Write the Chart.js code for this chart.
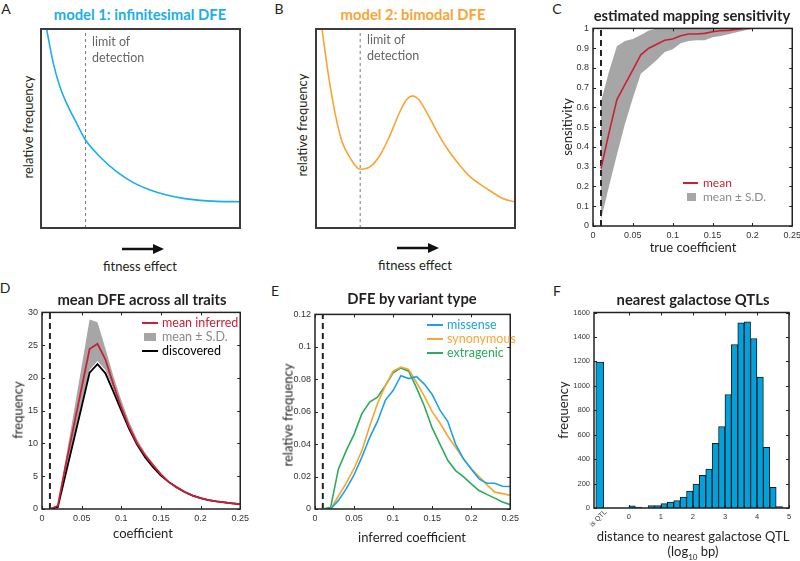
<!DOCTYPE html>
<html>
<head>
<meta charset="utf-8">
<script src="https://cdn.jsdelivr.net/npm/chart.js@4.4.1/dist/chart.umd.min.js"></script>
<style>
body{margin:0;background:#fff;}
#fig{position:relative;width:800px;height:561px;overflow:hidden;font-family:Lato,"Open Sans",sans-serif;color:#231f20;}
#fig canvas{position:absolute;}
.c{position:absolute;white-space:nowrap;line-height:1;transform:translate(-50%,-50%);}
.l{position:absolute;white-space:nowrap;line-height:1;transform:translateY(-50%);}
.title{font-weight:bold;font-size:14.8px;}
.lab{font-size:13px;}
.rot{transform:translate(-50%,-50%) rotate(-90deg);}
.letter{font-size:14px;}
.lim{font-size:12.5px;color:#666;line-height:16px;}
.leg{font-size:12.5px;}
.sw{position:absolute;}
</style>
</head>
<body>
<div id="fig">
  <canvas id="cA" width="207" height="207" style="left:37px;top:25px"></canvas>
  <canvas id="cB" width="207" height="207" style="left:312px;top:25px"></canvas>
  <canvas id="cC" width="247" height="227" style="left:558px;top:19px"></canvas>
  <canvas id="cD" width="246" height="226" style="left:7px;top:303px"></canvas>
  <canvas id="cE" width="243" height="224" style="left:280px;top:305px"></canvas>
  <canvas id="cF" width="242" height="224" style="left:559px;top:304px"></canvas>

  <div class="c letter" style="left:6px;top:9px">A</div>
  <div class="c letter" style="left:279px;top:9px">B</div>
  <div class="c letter" style="left:557px;top:9px">C</div>
  <div class="c letter" style="left:5px;top:288px">D</div>
  <div class="c letter" style="left:275px;top:291px">E</div>
  <div class="c letter" style="left:557px;top:291px">F</div>

  <div class="c title" style="left:140px;top:14px;color:#1aaeea">model 1: infinitesimal DFE</div>
  <div class="c title" style="left:413px;top:14px;color:#f9a533">model 2: bimodal DFE</div>
  <div class="c title" style="left:692px;top:15px">estimated mapping sensitivity</div>
  <div class="c title" style="left:142px;top:299px">mean DFE across all traits</div>
  <div class="c title" style="left:412px;top:298px">DFE by variant type</div>
  <div class="c title" style="left:693px;top:299px">nearest galactose QTLs</div>

  <div class="c lab rot" style="left:28px;top:127px">relative frequency</div>
  <div class="c lab rot" style="left:302px;top:125px">relative frequency</div>
  <div class="c lab rot" style="left:567px;top:127px">sensitivity</div>
  <div class="c lab rot" style="left:18px;top:410px">frequency</div>
  <div class="c lab rot" style="left:288px;top:415px">relative frequency</div>
  <div class="c lab rot" style="left:563px;top:410px">frequency</div>

  <div class="c lab" style="left:140px;top:266px">fitness effect</div>
  <div class="c lab" style="left:415px;top:265px">fitness effect</div>
  <div class="c lab" style="left:693px;top:247px">true coefficient</div>
  <div class="c lab" style="left:143px;top:533px">coefficient</div>
  <div class="c lab" style="left:412px;top:537px">inferred coefficient</div>
  <div class="c lab" style="left:693px;top:536px">distance to nearest galactose QTL</div>
  <div class="c lab" style="left:693px;top:553px">(log<sub style="font-size:8px">10</sub> bp)</div>
  <div class="c" style="left:598px;top:518px;font-size:7px;color:#333;font-family:'Liberation Sans';transform:translate(-50%,-50%) rotate(-45deg)">is QTL</div>

  <div class="l lim" style="left:92px;top:50px">limit of<br>detection</div>
  <div class="l lim" style="left:367px;top:48px">limit of<br>detection</div>

  <svg style="position:absolute;left:118px;top:241px" width="50" height="16"><line x1="4" y1="8" x2="36" y2="8" stroke="#111" stroke-width="2.5"/><polygon points="35,3 46,8 35,13" fill="#111"/></svg>
  <svg style="position:absolute;left:393px;top:240px" width="50" height="16"><line x1="4" y1="8" x2="36" y2="8" stroke="#111" stroke-width="2.5"/><polygon points="35,3 46,8 35,13" fill="#111"/></svg>

  <!-- legend C -->
  <div class="sw" style="left:683px;top:182px;width:15px;height:2px;background:#cc1f36"></div>
  <div class="l leg" style="left:703px;top:183px;color:#cc1f36;font-size:12px">mean</div>
  <div class="sw" style="left:687px;top:193px;width:9px;height:8px;background:#a6a6a6"></div>
  <div class="l leg" style="left:703px;top:197px;color:#8a8a8a;font-size:12px">mean ± S.D.</div>
  <!-- legend D -->
  <div class="sw" style="left:142px;top:322px;width:16px;height:2px;background:#cc1f36"></div>
  <div class="l leg" style="left:162px;top:323px;color:#cc1f36">mean inferred</div>
  <div class="sw" style="left:144px;top:333px;width:12px;height:8px;background:#a6a6a6"></div>
  <div class="l leg" style="left:162px;top:337px;color:#8a8a8a">mean ± S.D.</div>
  <div class="sw" style="left:142px;top:350px;width:16px;height:2px;background:#000"></div>
  <div class="l leg" style="left:162px;top:351px;color:#000">discovered</div>
  <!-- legend E -->
  <div class="sw" style="left:427px;top:324px;width:16px;height:2px;background:#1ca3e6"></div>
  <div class="l leg" style="left:447px;top:325px;color:#1ca3e6">missense</div>
  <div class="sw" style="left:427px;top:338px;width:16px;height:2px;background:#f9a533"></div>
  <div class="l leg" style="left:447px;top:339px;color:#f9a533">synonymous</div>
  <div class="sw" style="left:427px;top:352px;width:16px;height:2px;background:#2bac5c"></div>
  <div class="l leg" style="left:447px;top:353px;color:#2bac5c">extragenic</div>
</div>

<script>
// A: infinitesimal model curve (box fractions)
let aX = [0.028, 0.062, 0.095, 0.129, 0.179, 0.224, 0.296, 0.380, 0.464, 0.548, 0.631, 0.715, 0.799, 0.883, 1.0];
let aY = [1.0, 0.827, 0.71, 0.626, 0.526, 0.442, 0.358, 0.283, 0.228, 0.191, 0.166, 0.149, 0.139, 0.134, 0.132];
let aLimit = 0.224;

// B: bimodal model curve
let bX = [0.030, 0.064, 0.097, 0.130, 0.172, 0.222, 0.273, 0.323, 0.373, 0.423, 0.457, 0.485, 0.515, 0.557, 0.607, 0.657, 0.707, 0.774, 0.858, 0.941, 1.0];
let bY = [1.0, 0.758, 0.571, 0.436, 0.351, 0.295, 0.308, 0.368, 0.469, 0.588, 0.647, 0.664, 0.647, 0.580, 0.486, 0.402, 0.334, 0.258, 0.198, 0.147, 0.131];
let bLimit = 0.222;

// C: mapping sensitivity
let cX = [0.01, 0.02, 0.03, 0.04, 0.05, 0.06, 0.07, 0.08, 0.09, 0.10, 0.11, 0.12, 0.13, 0.14, 0.15, 0.16, 0.17, 0.18, 0.19, 0.20];
let cMean = [0.29, 0.47, 0.64, 0.715, 0.79, 0.866, 0.9, 0.92, 0.94, 0.946, 0.963, 0.972, 0.972, 0.975, 0.983, 0.988, 0.99, 0.995, 1.0, 1.0];
let cUpper = [0.63, 0.78, 0.91, 0.936, 0.946, 0.966, 0.99, 1, 1, 1, 1, 1, 1, 1, 1, 1, 1, 1, 1, 1];
let cLower = [0.03, 0.2, 0.36, 0.515, 0.648, 0.77, 0.805, 0.84, 0.88, 0.895, 0.925, 0.936, 0.94, 0.94, 0.955, 0.962, 0.97, 0.98, 0.99, 1.0];
let limitX = 0.01;

// D: mean DFE across traits
let dX = [0.01, 0.02, 0.03, 0.04, 0.05, 0.06, 0.07, 0.08, 0.09, 0.10, 0.11, 0.12, 0.13, 0.14, 0.15, 0.16, 0.17, 0.18, 0.19, 0.20, 0.21, 0.22, 0.23, 0.24, 0.25];
let dMean = [0, 0.5, 6.8, 12.6, 18.5, 24.4, 25.2, 22.8, 19.0, 15.5, 12.5, 10.0, 8.2, 6.7, 5.3, 4.1, 3.3, 2.6, 2.05, 1.65, 1.35, 1.15, 1.0, 0.87, 0.75];
let dUpper = [0, 0.6, 7.7, 14.7, 21.8, 28.9, 28.5, 24.5, 20.3, 16.6, 13.3, 10.6, 8.6, 7.0, 5.5, 4.25, 3.4, 2.7, 2.1, 1.7, 1.38, 1.17, 1.02, 0.88, 0.76];
let dLower = [0, 0.35, 5.6, 10.8, 16.0, 21.2, 22.6, 21.2, 18.3, 15.2, 12.3, 9.9, 8.0, 6.5, 5.2, 4.1, 3.3, 2.6, 2.05, 1.65, 1.35, 1.15, 1.0, 0.87, 0.75];
let dFound = [0, 0.3, 5.4, 10.5, 15.6, 20.8, 22.1, 20.7, 17.9, 15.0, 12.2, 9.8, 7.9, 6.4, 5.1, 4.1, 3.3, 2.6, 2.05, 1.65, 1.35, 1.15, 1.0, 0.87, 0.75];

// E: DFE by variant type
let eX = dX;
let eMissense = [0, 0, 0.0053, 0.0124, 0.021, 0.032, 0.044, 0.054, 0.067, 0.073, 0.0822, 0.0804, 0.0816, 0.077, 0.0706, 0.061, 0.0539, 0.04, 0.031, 0.0247, 0.0186, 0.0159, 0.0159, 0.014, 0.0139];
let eSynonymous = [0, 0, 0.008, 0.016, 0.025, 0.036, 0.051, 0.065, 0.076, 0.085, 0.0875, 0.086, 0.078, 0.0696, 0.06, 0.053, 0.045, 0.038, 0.031, 0.025, 0.02, 0.015, 0.0104, 0.0095, 0.0084];
let eExtragenic = [0, 0.001, 0.0247, 0.036, 0.046, 0.0588, 0.066, 0.069, 0.076, 0.084, 0.087, 0.085, 0.0747, 0.0635, 0.05, 0.04, 0.03, 0.0237, 0.02, 0.0155, 0.0114, 0.009, 0.0067, 0.0043, 0.0027];

// F: distance to nearest galactose QTL histogram
let fBins = [0.1, 0.3, 0.5, 0.7, 0.9, 1.1, 1.3, 1.5, 1.7, 1.9, 2.1, 2.3, 2.5, 2.7, 2.9, 3.1, 3.3, 3.5, 3.7, 3.9, 4.1, 4.3, 4.5, 4.7];
let fCounts = [18, 7, 0, 20, 20, 36, 48, 60, 90, 138, 196, 267, 318, 529, 667, 929, 1338, 1515, 1523, 1387, 1071, 496, 169, 11];
let fQtlPos = -0.91;
let fQtlCount = 1195;
let fTicks = [0, 1, 2, 3, 4, 5];

let red = '#cc1f36';
let band = '#a6a6a6';

function pts(xs, ys){ return xs.map((x, i) => ({x: x, y: ys[i]})); }
function vline(x, top){ return [{x: x, y: 0}, {x: x, y: top}]; }
function num(v){ return String(parseFloat(Number(v).toFixed(4))); }

// box + inward ticks like the original figure
const frame = {
  id: 'frame',
  afterDatasetsDraw(chart, args, o){
    const ctx = chart.ctx, a = chart.chartArea;
    ctx.save();
    ctx.strokeStyle = o.color;
    if (o.ticks){
      ctx.lineWidth = 1;
      let xs = chart.scales.x, ys = chart.scales.y;
      ctx.beginPath();
      xs.ticks.forEach(t => {
        let p = Math.round(xs.getPixelForValue(t.value)) + 0.5;
        ctx.moveTo(p, a.bottom); ctx.lineTo(p, a.bottom - 3);
        ctx.moveTo(p, a.top); ctx.lineTo(p, a.top + 3);
      });
      ys.ticks.forEach(t => {
        let p = Math.round(ys.getPixelForValue(t.value)) + 0.5;
        ctx.moveTo(a.left, p); ctx.lineTo(a.left + 3, p);
        ctx.moveTo(a.right, p); ctx.lineTo(a.right - 3, p);
      });
      ctx.stroke();
    }
    ctx.lineWidth = o.width;
    ctx.strokeRect(a.left, a.top, a.right - a.left, a.bottom - a.top);
    ctx.restore();
  }
};
Chart.register(frame);
Chart.defaults.animation = false;
Chart.defaults.responsive = false;
Chart.defaults.plugins.legend.display = false;
Chart.defaults.plugins.tooltip.enabled = false;
Chart.defaults.elements.point.radius = 0;
Chart.defaults.font.family = "'Liberation Sans', Arial, sans-serif";
Chart.defaults.color = '#333';

function axes(xmin, xmax, xstep, ymin, ymax, ystep, fs){
  return {
    x: {type: 'linear', min: xmin, max: xmax, offset: false,
        ticks: {stepSize: xstep, padding: 4, maxRotation: 0, font: {size: fs}, callback: num},
        grid: {display: false, drawTicks: false}, border: {display: false},
        afterFit: s => { s.height = 20; }},
    y: {type: 'linear', min: ymin, max: ymax,
        ticks: {stepSize: ystep, padding: 4, font: {size: fs}, callback: num},
        grid: {display: false, drawTicks: false}, border: {display: false},
        afterFit: s => { s.width = 35; }}
  };
}

function modelChart(id, xs, ys, limit, color){
  new Chart(document.getElementById(id), {
    type: 'line',
    data: {datasets: [
      {data: pts(xs, ys), borderColor: color, borderWidth: 1.6, cubicInterpolationMode: 'monotone'},
      {data: vline(limit, 1), borderColor: '#777', borderWidth: 1, borderDash: [3, 3]}
    ]},
    options: {
      layout: {padding: 4},
      scales: {x: {type: 'linear', min: 0, max: 1, display: false}, y: {min: 0, max: 1, display: false}},
      plugins: {frame: {color: '#3c3c3c', width: 2, ticks: false}}
    }
  });
}
modelChart('cA', aX, aY, aLimit, '#1aaeea');
modelChart('cB', bX, bY, bLimit, '#f9a533');

const pad = {top: 8, right: 12, left: 0, bottom: 0};

new Chart(document.getElementById('cC'), {
  type: 'line',
  data: {datasets: [
    {data: pts(cX, cMean), borderColor: red, borderWidth: 1.6, order: 0},
    {data: vline(limitX, 1), borderColor: '#222', borderWidth: 2, borderDash: [6, 4], order: 1},
    {data: pts(cX, cUpper), borderWidth: 0, backgroundColor: band, fill: '+1', order: 2},
    {data: pts(cX, cLower), borderWidth: 0, order: 3}
  ]},
  options: {layout: {padding: pad}, scales: axes(0, 0.25, 0.05, 0, 1, 0.1, 9),
    plugins: {frame: {color: '#222', width: 1.5, ticks: true}}}
});

new Chart(document.getElementById('cD'), {
  type: 'line',
  data: {datasets: [
    {data: pts(dX, dMean), borderColor: red, borderWidth: 1.8, order: 0},
    {data: pts(dX, dFound), borderColor: '#000', borderWidth: 1.8, order: 1},
    {data: vline(limitX, 30), borderColor: '#222', borderWidth: 2, borderDash: [6, 4], order: 2},
    {data: pts(dX, dUpper), borderWidth: 0, backgroundColor: band, fill: '+1', order: 3},
    {data: pts(dX, dLower), borderWidth: 0, order: 4}
  ]},
  options: {layout: {padding: pad}, scales: axes(0, 0.25, 0.05, 0, 30, 5, 9),
    plugins: {frame: {color: '#222', width: 1.5, ticks: true}}}
});

new Chart(document.getElementById('cE'), {
  type: 'line',
  data: {datasets: [
    {data: pts(eX, eMissense), borderColor: '#1ca3e6', borderWidth: 1.6},
    {data: pts(eX, eSynonymous), borderColor: '#f9a533', borderWidth: 1.6},
    {data: pts(eX, eExtragenic), borderColor: '#2bac5c', borderWidth: 1.6},
    {data: vline(limitX, 0.12), borderColor: '#222', borderWidth: 2, borderDash: [6, 4]}
  ]},
  options: {layout: {padding: pad}, scales: axes(0, 0.25, 0.05, 0, 0.12, 0.02, 9),
    plugins: {frame: {color: '#222', width: 1.5, ticks: true}}}
});

let fScales = axes(-1.09, 5, 1, 0, 1600, 200, 7.5);
fScales.x.afterBuildTicks = s => { s.ticks = fTicks.map(v => ({value: v})); };
new Chart(document.getElementById('cF'), {
  type: 'bar',
  data: {datasets: [
    {data: pts(fBins, fCounts), backgroundColor: '#00a2de', borderColor: '#1a1a1a', borderWidth: 1,
     barPercentage: 1, categoryPercentage: 1},
    {data: [{x: fQtlPos, y: fQtlCount}], backgroundColor: '#00a2de', borderColor: '#1a1a1a', borderWidth: 1,
     barThickness: 8}
  ]},
  options: {layout: {padding: pad}, grouped: false, scales: fScales,
    plugins: {frame: {color: '#222', width: 1.5, ticks: true}}}
});
</script>
</body>
</html>
